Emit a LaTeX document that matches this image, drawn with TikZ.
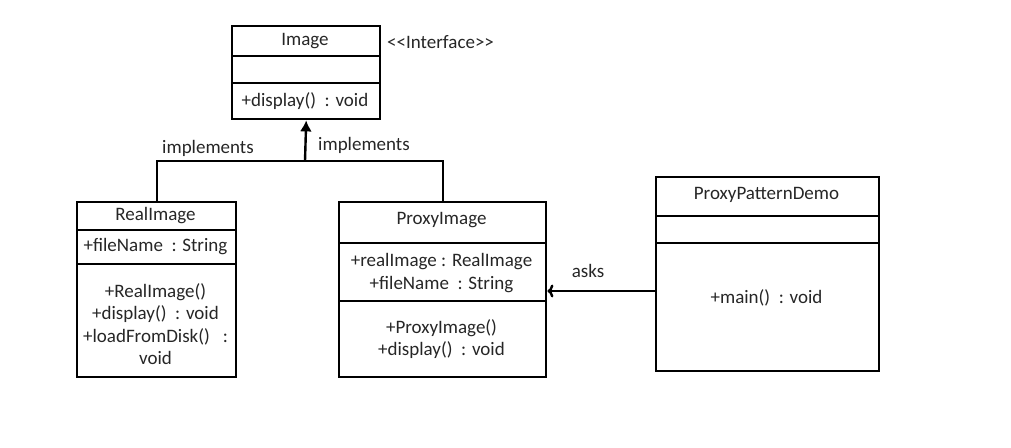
\documentclass[tikz,border=0pt]{standalone}
\usepackage{fontspec}
\setmainfont{Carlito}
\usetikzlibrary{arrows.meta}
\tikzset{
  umlbox/.style={draw, line width=2.4pt, anchor=north west, inner sep=0pt},
  divider/.style={line width=2.4pt},
  txt/.style={font=\fontsize{19}{22.5}\selectfont, inner sep=0pt, align=center, text=black!85},
  conn/.style={line width=2.4pt},
}
\begin{document}
\begin{tikzpicture}[x=1pt,y=-1pt]
\useasboundingbox (0,0) rectangle (1011,447);
% Image
\node[umlbox, minimum width=148pt, minimum height=93pt] (img) at (231,25) {};
\draw[divider] (231,56) -- (379,56);
\draw[divider] (231,83) -- (379,83);
\node[txt] (imgname) at (305,41) {Image};
\node[txt] (imgop) at (305,101) {+display()\ \ : void};
\node[txt, anchor=west] (iface) at (387,42) {<{}<Interface>{}>};
% RealImage
\node[umlbox, minimum width=159pt, minimum height=175pt] (ri) at (76,201) {};
\draw[divider] (76,230) -- (235,230);
\draw[divider] (76,264) -- (235,264);
\node[txt] (riname) at (155.5,216) {RealImage};
\node[txt] (riattr) at (155.5,247) {+fileName\ \ : String};
\node[txt] (riops) at (155.5,324) {+RealImage()\\+display()\ \ : void\\+loadFromDisk()\ \ \ :\\void};
% ProxyImage
\node[umlbox, minimum width=207pt, minimum height=175pt] (pi) at (338,201) {};
\draw[divider] (338,243) -- (545,243);
\draw[divider] (338,301) -- (545,301);
\node[txt] (piname) at (441.5,220) {ProxyImage};
\node[txt] (piattr) at (441.5,273) {+realImage : RealImage\\+fileName\ \ : String};
\node[txt] (piops) at (441.5,339) {+ProxyImage()\\+display()\ \ : void};
% ProxyPatternDemo
\node[umlbox, minimum width=223pt, minimum height=194pt] (ppd) at (655,176) {};
\draw[divider] (655,216) -- (878,216);
\draw[divider] (655,243) -- (878,243);
\node[txt] (ppdname) at (766.5,195) {ProxyPatternDemo};
\node[txt] (ppdop) at (766.5,298) {+main()\ \ : void};
% connectors
\coordinate (j) at (305,161);
\coordinate (askrow) at (0,291);
\draw[conn] (ri.north) |- (j) -| (pi.north);
\draw[conn, -{Latex[length=11pt,width=12pt]}] (j) -- (img.south);
\draw[conn, -{To[length=6pt,width=13pt]}] (ppd.west |- askrow) -- (pi.east |- askrow);
\node[txt] (impl1) at (208,148) {implements};
\node[txt] (impl2) at (364,145) {implements};
\node[txt] (asks) at (588,271) {asks};
\end{tikzpicture}
\end{document}
